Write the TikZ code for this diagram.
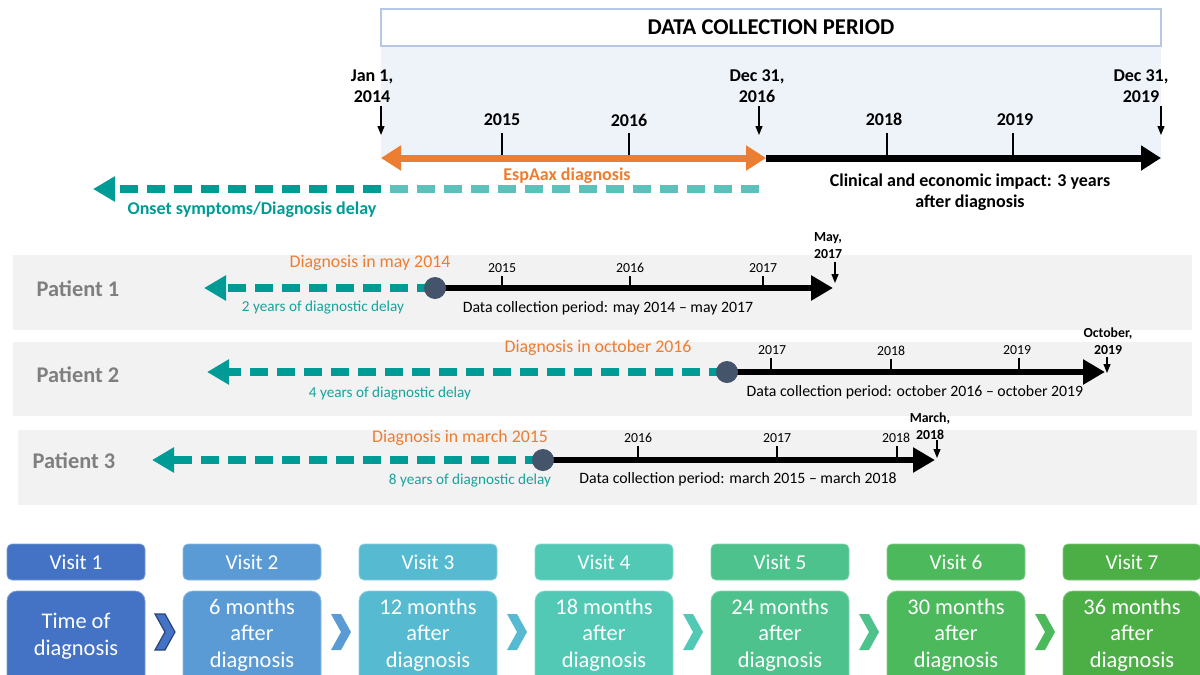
\documentclass[tikz,border=0pt]{standalone}
\usepackage{fontspec}
\setmainfont{Carlito}
\usepackage{tikz}
\usetikzlibrary{arrows.meta}
\definecolor{corHdr}{HTML}{B4C7E7}
\definecolor{corShade}{HTML}{EEF2F9}
\definecolor{corOrange}{HTML}{ED7D31}
\definecolor{corTealD}{HTML}{009B95}
\definecolor{corTealL}{HTML}{5CC1BA}
\definecolor{corTealT}{HTML}{17A39C}
\definecolor{corRow}{HTML}{F2F2F2}
\definecolor{corPat}{HTML}{7F7F7F}
\definecolor{corDot}{HTML}{44546A}
\definecolor{corVA}{HTML}{4472C4}
\definecolor{corVB}{HTML}{5B9BD5}
\definecolor{corVC}{HTML}{56BBD0}
\definecolor{corVD}{HTML}{52C9B5}
\definecolor{corVE}{HTML}{4DC28C}
\definecolor{corVF}{HTML}{4BB95C}
\definecolor{corVG}{HTML}{4CAF45}
\tikzset{
  bigtip/.tip={Triangle[length=10pt,width=12pt]},
  hdrbox/.style={draw=corHdr, fill=white, line width=0.6pt, minimum width=390pt, minimum height=18.5pt, font=\fontsize{11.3}{13}\selectfont\bfseries},
  toplbl/.style={inner sep=0pt, font=\fontsize{9}{10.5}\selectfont\bfseries, align=center},
  yeartick/.style={line width=0.6pt},
  pinarrow/.style={line width=0.6pt, -{Triangle[length=4.5pt,width=3.5pt]}},
  orangeline/.style={corOrange, line width=3.5pt, {bigtip}-{bigtip}},
  blackline/.style={line width=3.5pt, -{bigtip}},
  delaydash/.style={corTealD, line width=3.6pt, dash pattern=on 9pt off 4.5pt},
  delaytip/.style={-{Triangle[length=11pt,width=12pt]}},
  rowline/.style={line width=3pt, -{Triangle[length=11pt,width=12pt]}},
  patlbl/.style={font=\fontsize{11.2}{13}\selectfont\bfseries, text=corPat},
  diaglbl/.style={inner sep=0pt, font=\fontsize{8.9}{10}\selectfont, text=corOrange},
  smallyear/.style={inner sep=0pt, font=\fontsize{6.9}{8}\selectfont},
  enddate/.style={inner sep=0pt, font=\fontsize{6.9}{8.5}\selectfont\bfseries, align=center},
  delaylbl/.style={inner sep=0pt, font=\fontsize{7.6}{9}\selectfont, text=corTealT},
  periodlbl/.style={inner sep=0pt, font=\fontsize{7.9}{9}\selectfont},
  patdot/.style={circle, fill=corDot, minimum size=11pt, inner sep=0pt},
  visithead/.style={rounded corners=2.5pt, minimum width=69pt, minimum height=18pt, text=white, font=\fontsize{10.6}{12}\selectfont},
  visittext/.style={inner sep=0pt, text=white, align=center, font=\fontsize{11.2}{13.3}\selectfont}
}
\begin{document}
\begin{tikzpicture}[x=0.5pt,y=-0.5pt]
\clip (0,0) rectangle (1200,675);

  % data collection period
\fill[corShade] (381,46) rectangle (1161,160);
\node[hdrbox] (hdr) at (771,27.5) {DATA COLLECTION PERIOD};

\draw[yeartick] (502,133) -- (502,156);
\draw[yeartick] (629,133) -- (629,156);
\draw[yeartick] (887,133) -- (887,156);
\draw[yeartick] (1013,133) -- (1013,156);
\node[toplbl] (y2015) at (502,120) {2015};
\node[toplbl] (y2016) at (629,120) {2016};
\node[toplbl] (y2018) at (884,119) {2018};
\node[toplbl] (y2019) at (1015,120) {2019};

\node[toplbl] (d2014) at (372,86) {Jan 1,\\2014};
\node[toplbl] (d2016) at (757,86) {Dec 31,\\2016};
\node[toplbl] (d2019) at (1141,86) {Dec 31,\\2019};
\coordinate (p2014) at (381,135);
\coordinate (p2016) at (759,135);
\coordinate (p2019) at (1161,135);
\draw[pinarrow] (p2014 |- 0,106) -- (p2014);
\draw[pinarrow] (p2016 |- 0,106) -- (p2016);
\draw[pinarrow] (p2019 |- 0,106) -- (p2019);

\coordinate (a0) at (381,158);
\coordinate (a1) at (766,158);
\coordinate (a2) at (1161,158);
\draw[orangeline] (a0) -- (a1);
\draw[blackline] (a1) -- (a2);
\node[toplbl, text=corOrange] (espa) at (567,176) {EspAax diagnosis};
\node[toplbl] (impact) at (970,192) {Clinical and economic impact: 3 years\\after diagnosis};

\coordinate (o0) at (759,189);
\coordinate (o1) at (381,189);
\coordinate (o2) at (93,189);
\draw[delaydash, corTealL] (o0) -- (o1);
\draw[delaydash, delaytip] (o1) -- (o2);
\node[toplbl, text=corTealD] (onset) at (252,210) {Onset symptoms/Diagnosis delay};

  % patient 1
\fill[corRow] (13,255) rectangle (1192,330);
\node[patlbl] (pat1) at (78,289) {Patient 1};
\coordinate (c1) at (435,288);
\coordinate (on1) at (204,288);
\coordinate (end1) at (833,288);
\draw[yeartick] (502,276) -- (502,288);
\draw[yeartick] (630,276) -- (630,288);
\draw[yeartick] (763,276) -- (763,288);
\node[smallyear] (r1y15) at (502,268) {2015};
\node[smallyear] (r1y16) at (630,268) {2016};
\node[smallyear] (r1y17) at (763,268) {2017};
\draw[delaydash, delaytip] (c1) -- (on1);
\draw[rowline] (c1) -- (end1);
\node[patdot] (dot1) at (c1) {};
\node[enddate] (r1end) at (828,246) {May,\\2017};
\coordinate (p1) at (835,283);
\draw[pinarrow] (p1 |- 0,262) -- (p1);
\node[diaglbl] (r1diag) at (370,263) {Diagnosis in may 2014};
\node[delaylbl] (r1delay) at (323,308) {2 years of diagnostic delay};
\node[periodlbl] (r1period) at (608,308) {Data collection period: may 2014 – may 2017};

  % patient 2
\fill[corRow] (13,342) rectangle (1192,416);
\node[patlbl] (pat2) at (78,375) {Patient 2};
\coordinate (c2) at (727,372);
\coordinate (on2) at (207,372);
\coordinate (end2) at (1105,372);
\draw[yeartick] (771,358) -- (771,372);
\draw[yeartick] (891,359) -- (891,372);
\draw[yeartick] (1019,358) -- (1019,372);
\node[smallyear] (r2y17) at (772,350) {2017};
\node[smallyear] (r2y18) at (891,351) {2018};
\node[smallyear] (r2y19) at (1017,350) {2019};
\draw[delaydash, delaytip] (c2) -- (on2);
\draw[rowline] (c2) -- (end2);
\node[patdot] (dot2) at (c2) {};
\node[enddate] (r2end) at (1108,341) {October,\\2019};
\coordinate (p2) at (1107,373);
\draw[pinarrow] (p2 |- 0,357) -- (p2);
\node[diaglbl] (r2diag) at (598,348) {Diagnosis in october 2016};
\node[delaylbl] (r2delay) at (390,394) {4 years of diagnostic delay};
\node[periodlbl] (r2period) at (915,392) {Data collection period: october 2016 – october 2019};

  % patient 3
\fill[corRow] (18,430) rectangle (1197,505);
\node[patlbl] (pat3) at (74,461) {Patient 3};
\coordinate (c3) at (543,460);
\coordinate (on3) at (152,460);
\coordinate (end3) at (935,460);
\draw[yeartick] (638,446) -- (638,460);
\draw[yeartick] (777,446) -- (777,460);
\draw[yeartick] (897,446) -- (897,460);
\node[smallyear] (r3y16) at (638,438) {2016};
\node[smallyear] (r3y17) at (777,438) {2017};
\node[smallyear] (r3y18) at (896,438) {2018};
\draw[delaydash, delaytip] (c3) -- (on3);
\draw[rowline] (c3) -- (end3);
\node[patdot] (dot3) at (c3) {};
\node[enddate] (r3end) at (930,426) {March,\\2018};
\coordinate (p3) at (937,458);
\draw[pinarrow] (p3 |- 0,440) -- (p3);
\node[diaglbl] (r3diag) at (460,438) {Diagnosis in march 2015};
\node[delaylbl] (r3delay) at (470,481) {8 years of diagnostic delay};
\node[periodlbl] (r3period) at (738,479) {Data collection period: march 2015 – march 2018};

  % visit 1
\node[visithead, fill=corVA, draw=corVA!70!white] (v1) at (76,562) {Visit 1};
\filldraw[fill=corVA, draw=corVA!70!white, rounded corners=5pt] (7,591) rectangle (145,700);
\node[visittext] (t1) at (76,636) {Time of\\diagnosis};
\filldraw[fill=corVA, draw=corVA!60!black, line width=0.6pt] (155,614) -- (165,614) -- (175,632) -- (165,650) -- (155,650) -- (165,632) -- cycle;

  % visit 2
\node[visithead, fill=corVB, draw=corVB!70!white] (v2) at (252,562) {Visit 2};
\filldraw[fill=corVB, draw=corVB!70!white, rounded corners=5pt] (183,591) rectangle (321,700);
\node[visittext] (t2) at (252,635) {6 months\\after\\diagnosis};
\fill[corVB] (331,614) -- (341,614) -- (351,632) -- (341,650) -- (331,650) -- (341,632) -- cycle;

  % visit 3
\node[visithead, fill=corVC, draw=corVC!70!white] (v3) at (428,562) {Visit 3};
\filldraw[fill=corVC, draw=corVC!70!white, rounded corners=5pt] (359,591) rectangle (497,700);
\node[visittext] (t3) at (428,635) {12 months\\after\\diagnosis};
\fill[corVC] (507,614) -- (517,614) -- (527,632) -- (517,650) -- (507,650) -- (517,632) -- cycle;

  % visit 4
\node[visithead, fill=corVD, draw=corVD!70!white] (v4) at (604,562) {Visit 4};
\filldraw[fill=corVD, draw=corVD!70!white, rounded corners=5pt] (535,591) rectangle (673,700);
\node[visittext] (t4) at (604,635) {18 months\\after\\diagnosis};
\fill[corVD] (683,614) -- (693,614) -- (703,632) -- (693,650) -- (683,650) -- (693,632) -- cycle;

  % visit 5
\node[visithead, fill=corVE, draw=corVE!70!white] (v5) at (780,562) {Visit 5};
\filldraw[fill=corVE, draw=corVE!70!white, rounded corners=5pt] (711,591) rectangle (849,700);
\node[visittext] (t5) at (780,635) {24 months\\after\\diagnosis};
\fill[corVE] (859,614) -- (869,614) -- (879,632) -- (869,650) -- (859,650) -- (869,632) -- cycle;

  % visit 6
\node[visithead, fill=corVF, draw=corVF!70!white] (v6) at (956,562) {Visit 6};
\filldraw[fill=corVF, draw=corVF!70!white, rounded corners=5pt] (887,591) rectangle (1025,700);
\node[visittext] (t6) at (956,635) {30 months\\after\\diagnosis};
\fill[corVF] (1035,614) -- (1045,614) -- (1055,632) -- (1045,650) -- (1035,650) -- (1045,632) -- cycle;

  % visit 7
\node[visithead, fill=corVG, draw=corVG!70!white] (v7) at (1132,562) {Visit 7};
\filldraw[fill=corVG, draw=corVG!70!white, rounded corners=5pt] (1063,591) rectangle (1201,700);
\node[visittext] (t7) at (1132,635) {36 months\\after\\diagnosis};
\end{tikzpicture}
\end{document}
